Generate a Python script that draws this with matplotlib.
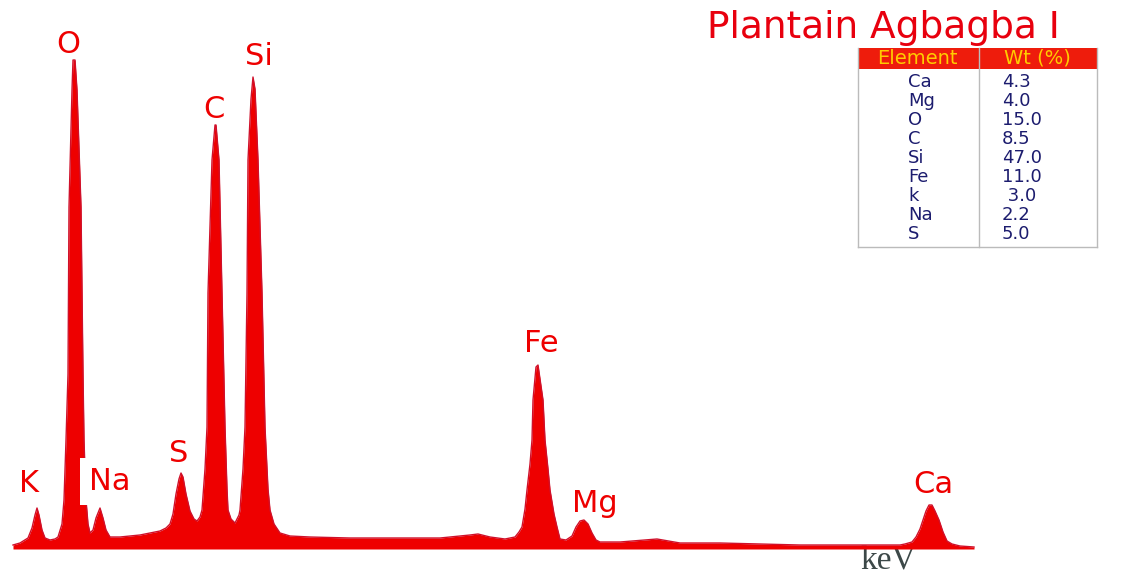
import matplotlib
matplotlib.use("Agg")
import matplotlib.pyplot as plt
from matplotlib.patches import Rectangle
from matplotlib.lines import Line2D

# Espectro EDS (canal, cuentas)
canal = [13, 20, 28, 32, 35, 37, 39, 42, 45, 50, 55, 58,
         62, 64, 66, 68, 69, 72, 73, 75, 77, 81, 83, 84, 86, 88, 90,
         93, 96, 100, 103, 106, 110, 120, 130, 140, 150, 160,
         166, 170, 173, 176, 179, 181, 183, 186, 190, 194, 197,
         200, 202, 205, 207, 208, 212, 215, 216, 219, 222, 225, 227, 228, 231, 235,
         239, 240, 243, 245, 247, 248, 251, 253, 255, 258, 262, 265, 268, 270, 274, 280,
         290, 310, 350, 400, 440, 460, 470, 478, 490, 505,
         515, 519, 522, 525, 527, 530, 532, 533, 536, 538, 540, 543, 545, 548, 550, 554, 557, 560,
         566, 572, 576, 580, 584, 588, 592, 596, 600,
         620, 657, 680, 720, 760, 800, 850, 900,
         905, 912, 916, 920, 923, 926, 929, 932, 935, 939, 943, 947, 952, 960, 974]
cuentas = [4, 6, 11, 21, 34, 41, 34, 19, 11, 9, 10, 12,
           25, 49, 109, 175, 342, 459, 489, 489, 459, 342, 175, 109, 49, 25, 16,
           19, 31, 41, 31, 19, 12, 12, 13, 14, 16, 18,
           21, 25, 35, 55, 70, 76, 72, 55, 38, 30, 28,
           32, 39, 80, 122, 256, 389, 424, 424, 389, 256, 122, 60, 39, 30, 26,
           34, 39, 80, 122, 256, 389, 450, 472, 460, 389, 256, 122, 60, 39, 25, 16,
           13, 12, 11, 11, 11, 13, 14, 15, 12, 10,
           12, 17, 22, 40, 59, 85, 109, 149, 182, 184, 170, 149, 109, 80, 59, 35, 22, 10,
           9, 13, 22, 28, 29, 25, 16, 9, 7,
           7, 10, 6, 6, 5, 4, 4, 4,
           5, 7, 12, 20, 29, 38, 44, 44, 38, 29, 17, 8, 5, 3, 2]

# Etiquetas de los picos (texto, canal, cuentas)
etiquetas = ["O", "Si", "C", "K", "Na", "S", "Fe", "Mg", "Ca"]
etiq_x = [68, 259, 214, 29, 110, 179, 541, 595, 933]
etiq_y = [496, 484, 431, 57, 59, 87, 197, 37, 56]

# Tabla de composición
elementos = ["Ca", "Mg", "O", "C", "Si", "Fe", "k", "Na", "S"]
wt = ["4.3", "4.0", "15.0", "8.5", "47.0", "11.0", " 3.0", "2.2", "5.0"]

ROJO = "#ee0000"
W, H = 1121, 575

fig = plt.figure(figsize=(W / 100, H / 100), dpi=100)
ax = fig.add_axes([0, 0, 1, 1])
ax.set_xlim(0, W)
ax.set_ylim(-26, 549)
ax.axis("off")

ax.fill_between(canal, cuentas, 0, color=ROJO, lw=0, zorder=2)
ax.plot(canal, cuentas, color="#d0102a", lw=1.0, zorder=3)

for txt, x, y in zip(etiquetas, etiq_x, etiq_y):
    kw = {}
    if txt == "Na":
        kw["bbox"] = dict(facecolor="white", edgecolor="none", boxstyle="square,pad=0.3")
    ax.text(x, y, txt, color=ROJO, fontsize=22, ha="center", va="baseline",
            family="DejaVu Sans", zorder=4, **kw)

ax.text(888, -20, "keV", color="#3c4848", fontsize=24, family="Liberation Serif",
        ha="center", va="baseline", zorder=1)


def px(x, y):
    return x / W, 1 - y / H


# Título
fig.text(*px(707, 38), "Plantain Agbagba I", color="#e8000e", fontsize=27,
         family="DejaVu Sans", ha="left", va="baseline")

# Tabla
x0, x1, xm = 858, 1097, 979
y0, yh, y1 = 48, 69, 247
hx, hy = px(x0, yh)
fig.add_artist(Rectangle((hx, hy), (x1 - x0) / W, (yh - y0) / H,
                         transform=fig.transFigure, facecolor="#ee1c0c", edgecolor="none"))
for xl in (x0, xm, x1):
    fig.add_artist(Line2D([xl / W, xl / W], [1 - y0 / H, 1 - y1 / H],
                          transform=fig.transFigure, color="#bbbbbb", lw=1))
fig.add_artist(Line2D([x0 / W, x1 / W], [1 - y1 / H, 1 - y1 / H],
                      transform=fig.transFigure, color="#bbbbbb", lw=1))
fig.text(*px(917, 58.5), "Element", color="#ffcc00", fontsize=14, family="DejaVu Sans",
         ha="center", va="center")
fig.text(*px(1037, 58.5), "Wt (%)", color="#ffcc00", fontsize=14, family="DejaVu Sans",
         ha="center", va="center")
for i, (el, v) in enumerate(zip(elementos, wt)):
    yy = 87 + 19 * i
    fig.text(*px(908, yy), el, color="#1c1c6e", fontsize=13, family="DejaVu Sans",
             ha="left", va="baseline")
    fig.text(*px(1002, yy), v, color="#1c1c6e", fontsize=13, family="DejaVu Sans",
             ha="left", va="baseline")

fig.savefig("out.png", dpi=100)
